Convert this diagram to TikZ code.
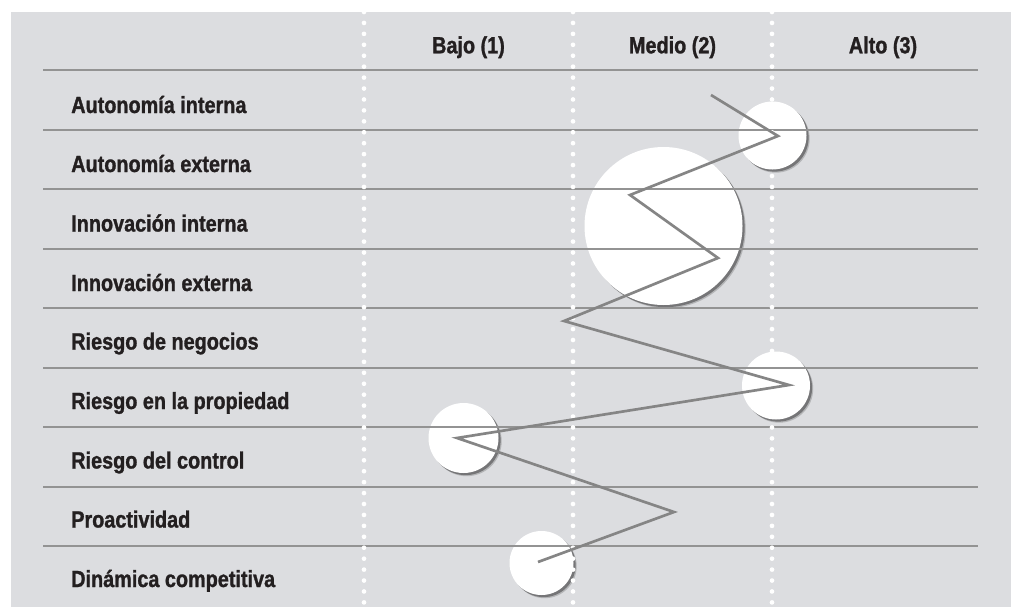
\documentclass[tikz,border=0pt]{standalone}
\usepackage{fontspec}
\setmainfont{Liberation Sans}[FakeStretch=0.85, BoldFeatures={FakeBold=1.2}]
\usetikzlibrary{shadows}
\definecolor{panel}{HTML}{DCDDE0}
\definecolor{rule}{HTML}{939393}
\definecolor{trace}{HTML}{858585}
\definecolor{ink}{HTML}{231F20}
\tikzset{
  rowlabel/.style={anchor=base west, inner sep=0pt, text=ink,
    font=\bfseries\fontsize{17.5}{20}\selectfont},
  colhead/.style={anchor=base, inner sep=0pt, text=ink,
    font=\bfseries\fontsize{17.5}{20}\selectfont},
  rowrule/.style={draw=rule, line width=1.5pt},
  colrule/.style={draw=white, line width=3.5pt, line cap=round,
    dash pattern=on 0pt off 8.2pt},
  bubble/.style={circle, fill=white, inner sep=0pt, minimum size=#1,
    drop shadow={shadow xshift=2.4pt, shadow yshift=-2.4pt, fill=black, opacity=0.18},
    drop shadow={shadow xshift=1.6pt, shadow yshift=-1.6pt, fill=black, opacity=0.35}},
  profile/.style={draw=trace, line width=2pt, line join=miter}
}
\begin{document}
\begin{tikzpicture}[x=0.75pt, y=-0.75pt]
\useasboundingbox (0,0) rectangle (1011,607);
\fill[white] (0,0) rectangle (1011,607);
\fill[panel] (11,12) rectangle (1011,607);

% level bubbles
\node[bubble=51pt]   (c1) at (772.5,135.5) {};
\node[bubble=118.5pt] (c2) at (663.5,226) {};
\node[bubble=51pt]   (c3) at (776,385.5) {};
\node[bubble=52.5pt] (c4) at (463.5,438) {};
\node[bubble=48pt]   (c5) at (541.5,563) {};

% row separators
\foreach \y in {70,129.5,189,248.5,308,367.5,427,486.5,546}
  \draw[rowrule] (43,\y) -- (978,\y);

% column separators
\foreach \x in {364,573,772}
  \draw[colrule] (\x,12) -- (\x,607);

% column headings
\node[colhead] (h1) at (468.5,53.3) {Bajo (1)};
\node[colhead] (h2) at (672.5,53.3) {Medio (2)};
\node[colhead] (h3) at (883,53.3) {Alto (3)};

% row labels
\node[rowlabel] (r1) at (71,113)   {Autonomía interna};
\node[rowlabel] (r2) at (71,172)   {Autonomía externa};
\node[rowlabel] (r3) at (71,231.5) {Innovación interna};
\node[rowlabel] (r4) at (71,291)   {Innovación externa};
\node[rowlabel] (r5) at (71,349.5) {Riesgo de negocios};
\node[rowlabel] (r6) at (71,409)   {Riesgo en la propiedad};
\node[rowlabel] (r7) at (71,468.5) {Riesgo del control};
\node[rowlabel] (r8) at (71,527.5) {Proactividad};
\node[rowlabel] (r9) at (71,587)   {Dinámica competitiva};

% profile line
\coordinate (p0) at (711,95);
\coordinate (p1) at (778,136);
\coordinate (p2) at (630,195);
\coordinate (p3) at (718,258);
\coordinate (p4) at (564,321);
\coordinate (p5) at (789,385);
\coordinate (p6) at (457,438);
\coordinate (p7) at (674,512);
\coordinate (p8) at (538,562);
\draw[profile] (p0) -- (p1) -- (p2) -- (p3) -- (p4) -- (p5) -- (p6) -- (p7) -- (p8);
\end{tikzpicture}
\end{document}
